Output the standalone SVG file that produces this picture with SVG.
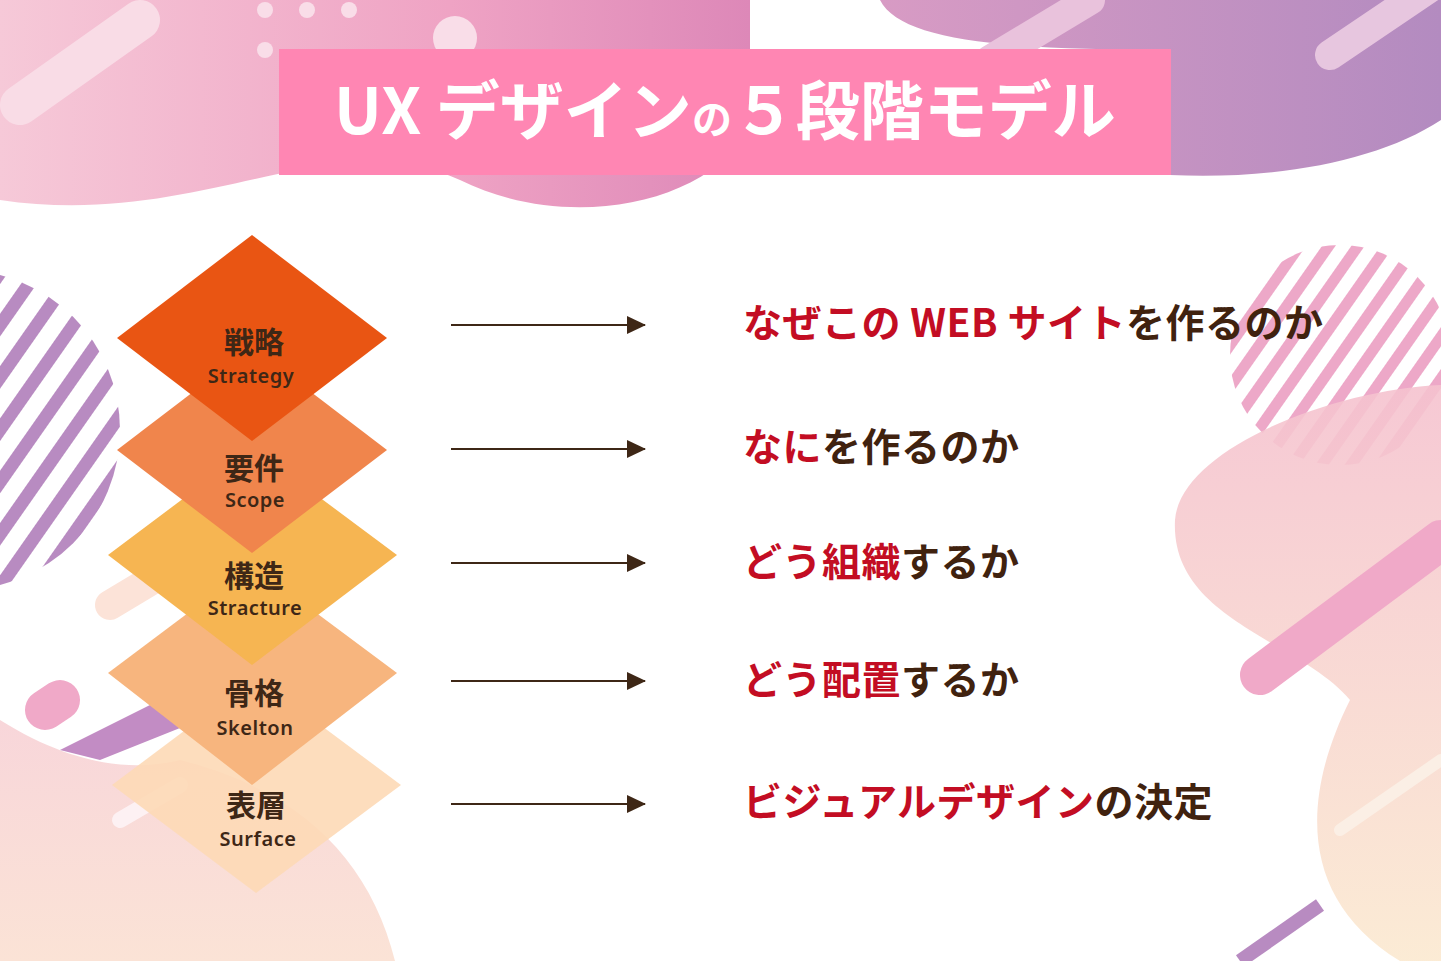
<svg xmlns="http://www.w3.org/2000/svg" width="1441" height="961" viewBox="0 0 1441 961">
<defs>
<linearGradient id="gTL" x1="0" y1="0" x2="1" y2="0"><stop offset="0" stop-color="#F6C9D8"/><stop offset="0.6" stop-color="#EFA3C4"/><stop offset="1" stop-color="#DD88B8"/></linearGradient>
<linearGradient id="gTR" x1="0" y1="0" x2="1" y2="0"><stop offset="0" stop-color="#D89BC4"/><stop offset="1" stop-color="#B38BC0"/></linearGradient>
<linearGradient id="gR" x1="0" y1="0" x2="0" y2="1"><stop offset="0" stop-color="#F5C2CF"/><stop offset="1" stop-color="#FBE9D0"/></linearGradient>
<linearGradient id="gBL" x1="0" y1="0" x2="0" y2="1"><stop offset="0" stop-color="#F8D6DA"/><stop offset="1" stop-color="#FBE3D6"/></linearGradient>
<pattern id="stP" width="30" height="30" patternUnits="userSpaceOnUse" patternTransform="rotate(35)"><rect width="13" height="30" fill="#B88BC1"/></pattern>
<pattern id="stK" width="24" height="24" patternUnits="userSpaceOnUse" patternTransform="rotate(35)"><rect width="11" height="24" fill="#EDA8C8"/></pattern>
<marker id="ah" markerWidth="20" markerHeight="20" refX="18" refY="10" orient="auto" markerUnits="userSpaceOnUse"><path d="M0,1 L19,10 L0,19 Z" fill="#3E2716"/></marker>
</defs>
<style>
.jp{font-family:"Noto Sans CJK JP","Noto Sans",sans-serif;font-weight:700}
.lab{font-size:30px;fill:#3E2716;text-anchor:middle}
.en{font-family:"Noto Sans","Open Sans",sans-serif;font-weight:600;font-size:20px;fill:#3E2716;text-anchor:middle;letter-spacing:0.5px}
.r{fill:#C30D23}.b{fill:#40220F}
.rt{font-size:39px;letter-spacing:0.5px}
.conn line{stroke:#3E2716;stroke-width:2;marker-end:url(#ah)}
</style>
<rect width="1441" height="961" fill="#fff"/>
<g id="background">
<path d="M0,0 H750 V130 C700,210 560,230 460,180 C330,120 200,230 0,200 Z" fill="url(#gTL)"/>
<path d="M880,0 H1441 V120 C1380,160 1280,180 1170,175 L1170,50 C1000,50 900,40 880,0 Z" fill="url(#gTR)"/>
<line x1="20" y1="105" x2="140" y2="20" stroke="#F9DCE6" stroke-width="40" stroke-linecap="round"/>
<line x1="1330" y1="55" x2="1441" y2="-20" stroke="#E7C6DF" stroke-width="30" stroke-linecap="round"/>
<line x1="990" y1="60" x2="1090" y2="0" stroke="#E9C2DC" stroke-width="30" stroke-linecap="round"/>
<g fill="#F9DDE8"><circle cx="265" cy="10" r="8"/><circle cx="307" cy="10" r="8"/><circle cx="349" cy="10" r="8"/><circle cx="265" cy="50" r="8"/><circle cx="455" cy="38" r="22"/></g>
<circle cx="-40" cy="430" r="160" fill="url(#stP)"/>
<circle cx="1340" cy="355" r="110" fill="url(#stK)"/>
<path d="M1441,385 C1330,390 1180,450 1175,520 C1170,620 1300,640 1350,700 C1300,800 1300,900 1400,961 H1441 Z" fill="url(#gR)" opacity="0.9"/>
<line x1="1260" y1="675" x2="1441" y2="540" stroke="#F0A9C8" stroke-width="40" stroke-linecap="round"/>
<line x1="1340" y1="830" x2="1441" y2="760" stroke="#FBEFE5" stroke-width="12" stroke-linecap="round"/>
<line x1="1240" y1="961" x2="1320" y2="905" stroke="#B88BC1" stroke-width="14"/>
<path d="M0,720 C80,770 140,770 180,760 C300,790 370,860 395,961 H0 Z" fill="url(#gBL)"/>
<path d="M60,750 L200,680 L200,720 L100,760 Z" fill="#C28CC4"/>
<line x1="110" y1="605" x2="160" y2="575" stroke="#FCE3D8" stroke-width="30" stroke-linecap="round"/>
<line x1="45" y1="710" x2="60" y2="700" stroke="#F0A9C8" stroke-width="40" stroke-linecap="round"/>
<line x1="120" y1="820" x2="180" y2="785" stroke="#FDF1F3" stroke-width="16" stroke-linecap="round"/>
</g>
<g id="title">
<rect x="279" y="49" width="892" height="126" fill="#FF86B3"/>
<text x="725" y="134" class="jp" font-size="64" fill="#fff" text-anchor="middle">UX デザイン<tspan font-size="40">の</tspan>５段階モデル</text>
</g>
<g id="node-surface"><polygon points="256,677 401,785 256,893 112,785" fill="#FDD9B6" opacity="0.9"/><text x="256" y="816" class="jp lab">表層</text><text x="258" y="846" class="en">Surface</text></g>
<g id="node-skelton"><polygon points="252,565 397,673 252,785 108,673" fill="#F7B57E"/><text x="254" y="704" class="jp lab">骨格</text><text x="255" y="735" class="en">Skelton</text></g>
<g id="node-structure"><polygon points="252,447 397,555 252,665 108,555" fill="#F6B552"/><text x="254" y="587" class="jp lab">構造</text><text x="255" y="615" class="en">Stracture</text></g>
<g id="node-scope"><polygon points="252,347 387,450 252,553 117,450" fill="#F0854C"/><text x="254" y="479" class="jp lab">要件</text><text x="255" y="507" class="en">Scope</text></g>
<g id="node-strategy"><polygon points="252,235 387,338 252,441 117,338" fill="#E95513"/><text x="254" y="353" class="jp lab">戦略</text><text x="251" y="383" class="en">Strategy</text></g>
<g class="conn" id="connectors">
<line x1="451" y1="325" x2="645" y2="325"/>
<line x1="451" y1="449" x2="645" y2="449"/>
<line x1="451" y1="563" x2="645" y2="563"/>
<line x1="451" y1="681" x2="645" y2="681"/>
<line x1="451" y1="804" x2="645" y2="804"/>
</g>
<g id="texts" class="jp rt">
<text x="743" y="337"><tspan class="r">なぜこの WEB サイト</tspan><tspan class="b">を作るのか</tspan></text>
<text x="743" y="461"><tspan class="r">なに</tspan><tspan class="b">を作るのか</tspan></text>
<text x="743" y="576"><tspan class="r">どう組織</tspan><tspan class="b">するか</tspan></text>
<text x="743" y="694"><tspan class="r">どう配置</tspan><tspan class="b">するか</tspan></text>
<text x="743" y="816"><tspan class="r">ビジュアルデザイン</tspan><tspan class="b">の決定</tspan></text>
</g>
</svg>
